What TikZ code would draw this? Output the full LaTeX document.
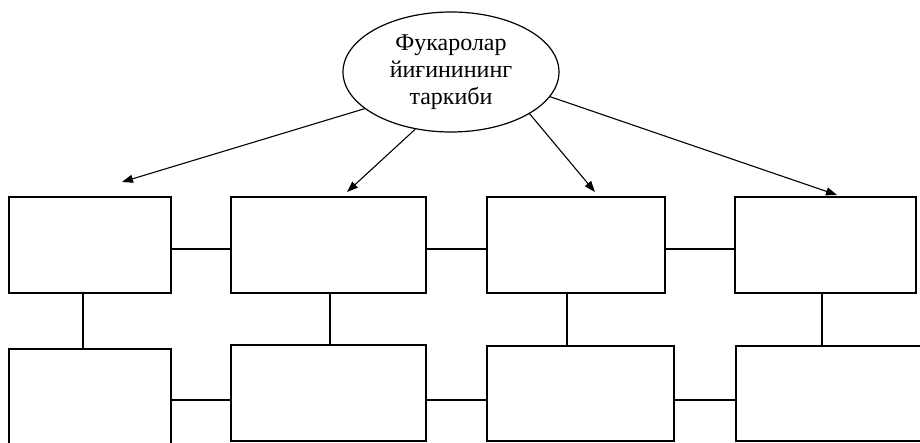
\documentclass[tikz,border=0pt]{standalone}
\usepackage{fontspec}
\setmainfont{Liberation Serif}
\usetikzlibrary{arrows.meta,shapes.geometric}
\begin{document}
\begin{tikzpicture}[x=1pt,y=-1pt,
  box/.style={draw, line width=1.3pt, rectangle, inner sep=0pt},
  link/.style={line width=1.2pt},
  arr/.style={line width=1.1pt, -{Triangle[length=11pt,width=8pt]}},
  oval/.style={draw, line width=1.2pt, ellipse, inner sep=0pt, minimum width=216pt, minimum height=120pt, align=center, font=\fontsize{24}{27}\selectfont}]
\clip (0,0) rectangle (920,443);
\fill[white] (0,0) rectangle (920,443);
\node[oval] (ell) at (451,72) {Фукаролар\\йиғинининг\\таркиби};
% top row
\node[box, minimum width=162pt, minimum height=96pt] (t1) at (90,245) {};
\node[box, minimum width=195pt, minimum height=96pt] (t2) at (328.5,245) {};
\node[box, minimum width=178pt, minimum height=96pt] (t3) at (576,245) {};
\node[box, minimum width=181pt, minimum height=96pt] (t4) at (825.5,245) {};
% bottom row
\node[box, minimum width=162pt, minimum height=101pt] (b1) at (90,399.5) {};
\node[box, minimum width=195pt, minimum height=96pt] (b2) at (328.5,393) {};
\node[box, minimum width=187pt, minimum height=95pt] (b3) at (580.5,393.5) {};
\node[box, minimum width=194pt, minimum height=95pt] (b4) at (833,393.5) {};
% helper coordinates
\coordinate (ht) at (0,249);
\coordinate (hb) at (0,400);
\coordinate (v1) at (83,0);
\coordinate (v2) at (330,0);
\coordinate (v3) at (567,0);
\coordinate (v4) at (822,0);
\coordinate (a1) at (122,182);
\coordinate (a2) at (347,192);
\coordinate (a3) at (595,192);
\coordinate (a4) at (837,195);
% horizontal links
\draw[link] (t1.east |- ht) -- (t2.west |- ht);
\draw[link] (t2.east |- ht) -- (t3.west |- ht);
\draw[link] (t3.east |- ht) -- (t4.west |- ht);
\draw[link] (b1.east |- hb) -- (b2.west |- hb);
\draw[link] (b2.east |- hb) -- (b3.west |- hb);
\draw[link] (b3.east |- hb) -- (b4.west |- hb);
% vertical links
\draw[link] (t1.south -| v1) -- (b1.north -| v1);
\draw[link] (t2.south -| v2) -- (b2.north -| v2);
\draw[link] (t3.south -| v3) -- (b3.north -| v3);
\draw[link] (t4.south -| v4) -- (b4.north -| v4);
% arrows
\draw[arr] (ell.203) -- (a1);
\draw[arr] (ell.238) -- (a2);
\draw[arr] (ell.332) -- (a3);
\draw[arr] (ell.346) -- (a4);
\end{tikzpicture}
\end{document}
